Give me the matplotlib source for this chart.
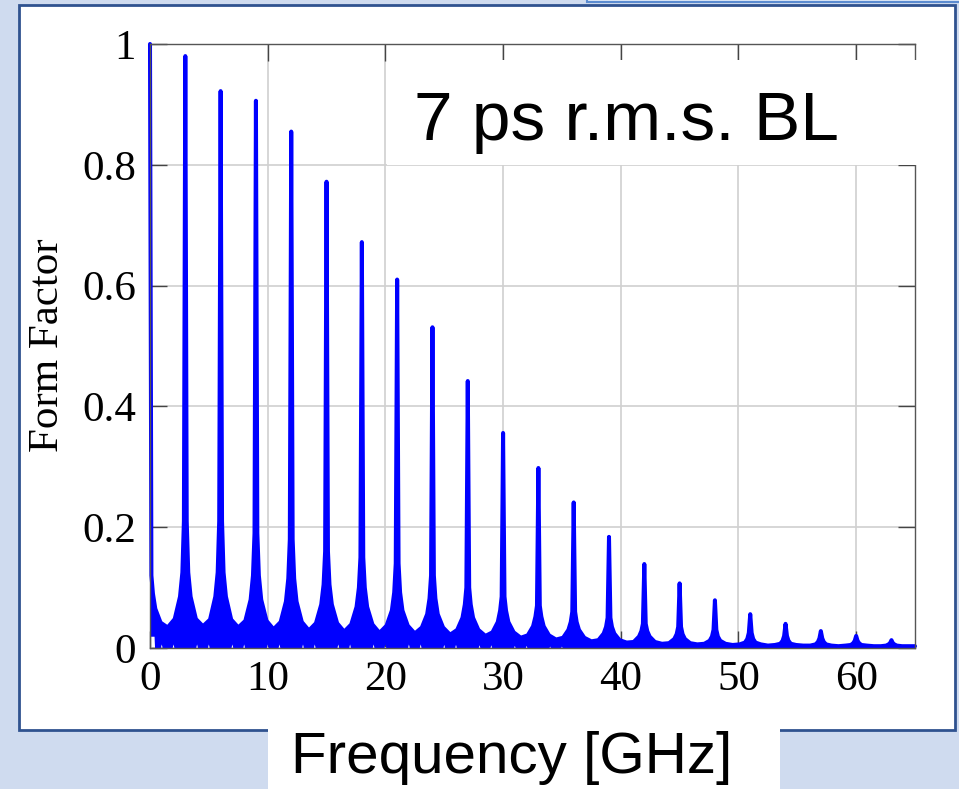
import numpy as np
import matplotlib
matplotlib.use("Agg")
import matplotlib.pyplot as plt
from matplotlib.patches import Rectangle

# harmonics of the bunch train (GHz) and form factor
peak_ghz = [0, 3, 6, 9, 12, 15, 18, 21, 24, 27, 30, 33, 36, 39, 42, 45, 48, 51, 54, 57, 60, 63]
peak_ff = [1.0, 0.98, 0.922, 0.906, 0.855, 0.772, 0.672, 0.61, 0.531, 0.442, 0.356,
           0.298, 0.241, 0.184, 0.139, 0.107, 0.079, 0.056, 0.040, 0.028, 0.020, 0.013]
# envelope of the fast ripple around each harmonic
wing_ff = [0.12, 0.21, 0.21, 0.19, 0.18, 0.16, 0.15, 0.14, 0.12, 0.10, 0.085,
           0.07, 0.06, 0.05, 0.04, 0.035, 0.03, 0.025, 0.02, 0.016, 0.012, 0.008]
foot_ff = [0.09, 0.125, 0.125, 0.12, 0.115, 0.105, 0.1, 0.092, 0.082, 0.072, 0.062,
           0.052, 0.043, 0.035, 0.028, 0.023, 0.019, 0.015, 0.012, 0.01, 0.008, 0.006]
shoulder_ff = [0.065, 0.085, 0.085, 0.08, 0.077, 0.072, 0.068, 0.062, 0.056, 0.05, 0.043,
               0.036, 0.03, 0.024, 0.019, 0.015, 0.012, 0.009, 0.007, 0.006, 0.005, 0.004]
side_ff = [0.042, 0.048, 0.047, 0.045, 0.043, 0.041, 0.039, 0.037, 0.034, 0.03, 0.026,
           0.021, 0.017, 0.013, 0.01, 0.008, 0.007, 0.006, 0.005, 0.004, 0.004, 0.003]
valley_ff = [0.034, 0.036, 0.034, 0.031, 0.029, 0.027, 0.025, 0.024, 0.022, 0.02, 0.017,
             0.014, 0.011, 0.009, 0.007, 0.006, 0.005, 0.004, 0.004, 0.003, 0.003]
tail_ff = 0.003
notch_ff = [0.02, 0.02, 0.02, 0.02, 0.02, 0.02, 0.02, 0.02, 0.018, 0.016, 0.013,
            0.01, 0, 0, 0, 0, 0, 0, 0, 0, 0]
start_floor_ff = 0.022

xticks = [0, 10, 20, 30, 40, 50, 60]
yticks = [0, 0.2, 0.4, 0.6, 0.8, 1.0]
ytick_labels = ["0", "0.2", "0.4", "0.6", "0.8", "1"]

# upper envelope
ux, uy = [], []
for n, f in enumerate(peak_ghz):
    if n > 0:
        ux += [f - 0.9, f - 0.45, f - 0.25, f - 0.12]
        uy += [side_ff[n], shoulder_ff[n], foot_ff[n], wing_ff[n]]
    ux.append(f)
    uy.append(peak_ff[n])
    ux += [f + 0.12, f + 0.25, f + 0.45, f + 0.9]
    uy += [wing_ff[n], foot_ff[n], shoulder_ff[n], side_ff[n]]
    if n < len(valley_ff):
        ux.append(f + 1.5)
        uy.append(valley_ff[n])
ux.append(65)
uy.append(tail_ff)

# lower envelope
lx, ly = [0, 0.55, 0.6], [start_floor_ff, start_floor_ff, 0]
for n, f in enumerate(peak_ghz[:-1]):
    h = notch_ff[n]
    lx += [f + 0.75, f + 1.0, f + 1.25, f + 1.75, f + 2.0, f + 2.25]
    ly += [0, h, 0, 0, h, 0]
lx.append(65)
ly.append(0)
ux, uy, lx, ly = map(np.array, (ux, uy, lx, ly))

W, H = 959, 789
fig = plt.figure(figsize=(W / 100, H / 100), dpi=100)
fig.patch.set_facecolor("#cfdbef")

# background panel (pixel coords)
bg = fig.add_axes([0, 0, 1, 1], zorder=0)
bg.set_xlim(0, W)
bg.set_ylim(H, 0)
bg.axis("off")
bg.add_patch(Rectangle((587, -10), 380, 12, facecolor="#dce6f5", edgecolor="#5b8bd0", lw=1.5))
bg.add_patch(Rectangle((19, 5), 936, 725, facecolor="white", edgecolor="#2f528f", lw=2))

ax = fig.add_axes([150 / W, 1 - 648 / H, 765 / W, 604 / H], zorder=2)
ax.fill(np.concatenate([ux, lx[::-1]]), np.concatenate([uy, ly[::-1]]),
        color="#0000ff", lw=0)
ax.plot(ux, uy, color="#0000ff", lw=2.9, solid_joinstyle="round",
        solid_capstyle="round", clip_on=False)
ax.plot(lx, ly, color="#0000ff", lw=2.9, solid_joinstyle="round")

ax.set_xlim(0, 65)
ax.set_ylim(0, 1)
ax.set_xticks(xticks)
ax.set_yticks(yticks)
ax.set_xticklabels([str(t) for t in xticks], fontfamily="Liberation Serif", fontsize=31)
ax.set_yticklabels(ytick_labels, fontfamily="Liberation Serif", fontsize=31)
ax.tick_params(direction="in", length=12, width=1, color="#444444", top=True, right=True)
ax.tick_params(axis="x", pad=9)
ax.tick_params(axis="y", pad=10)
ax.grid(True, color="#d0d0d0", lw=1.2)
ax.set_axisbelow(True)
for s in ax.spines.values():
    s.set_color("#555555")
    s.set_linewidth(1)

fig.text(48 / W, 1 - 345 / H, "Form Factor", rotation=90, ha="center", va="center",
         fontfamily="Liberation Serif", fontsize=31)

# overlay boxes
ov = fig.add_axes([0, 0, 1, 1], zorder=5)
ov.set_xlim(0, W)
ov.set_ylim(H, 0)
ov.axis("off")
ov.patch.set_alpha(0)
ov.add_patch(Rectangle((387, 60), 535, 105, facecolor="white", edgecolor="none"))
ov.text(414, 140, "7 ps r.m.s. BL", fontfamily="Liberation Sans", fontsize=50,
        ha="left", va="baseline")
ov.add_patch(Rectangle((268, 705), 512, 90, facecolor="white", edgecolor="none"))
ov.text(291, 773, "Frequency [GHz]", fontfamily="Liberation Sans", fontsize=42,
        ha="left", va="baseline")

fig.savefig("out.png", dpi=100)
